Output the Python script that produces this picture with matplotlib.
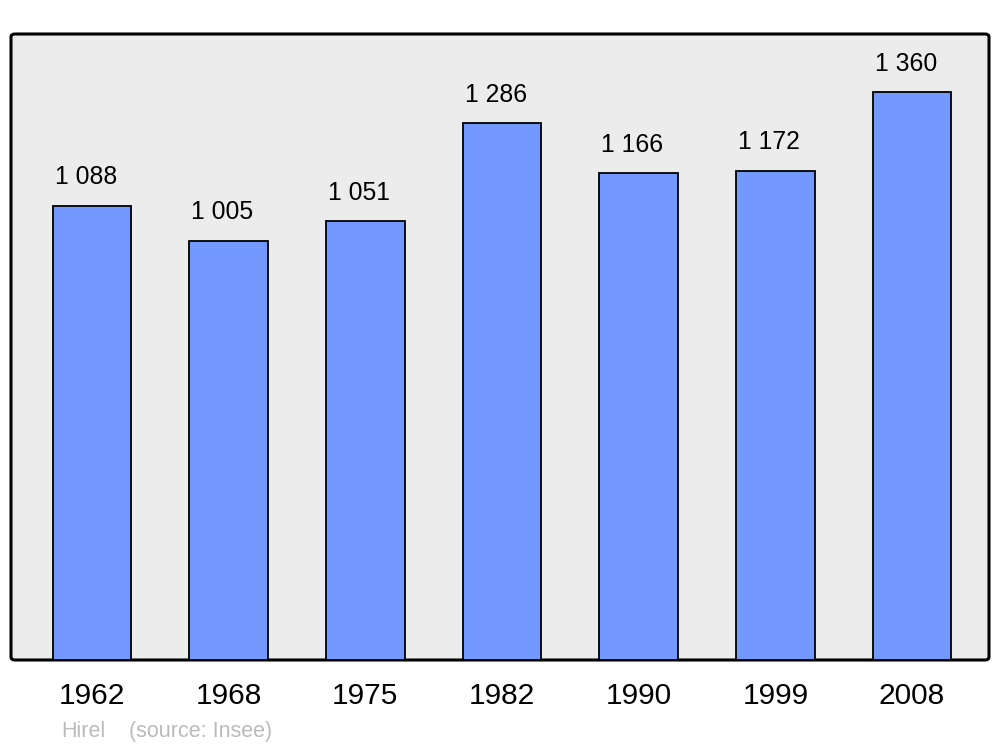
import matplotlib
matplotlib.use("Agg")
import matplotlib.pyplot as plt
from matplotlib.patches import FancyBboxPatch

years = ["1962", "1968", "1975", "1982", "1990", "1999", "2008"]
population = [1088, 1005, 1051, 1286, 1166, 1172, 1360]
value_labels = ["1 088", "1 005", "1 051", "1 286", "1 166", "1 172", "1 360"]
commune = "Hirel"
source = "(source: Insee)"

plt.rcParams['font.family'] = ['Liberation Sans', 'DejaVu Sans']

fig = plt.figure(figsize=(10, 7.47), dpi=100)
left, bottom, width, height = 0.011, 87/747, 0.978, 626/747

# rounded frame background
frame = FancyBboxPatch((left, bottom), width, height,
                       boxstyle="round,pad=0,rounding_size=0.004",
                       transform=fig.transFigure, facecolor="#ececec",
                       edgecolor="black", linewidth=2.2, zorder=-5)
fig.patches.append(frame)

ax = fig.add_axes([left, bottom, width, height])
ax.set_zorder(1)
ax.set_facecolor("none")
ax.patch.set_visible(False)
for s in ax.spines.values():
    s.set_visible(False)

x = list(range(len(years)))
ax.bar(x, population, width=0.575, color="#7399ff", edgecolor="black",
       linewidth=1.3, zorder=2)
ax.set_xlim(-0.593, 6.563)
ax.set_ylim(0, 1500)
ax.set_yticks([])
ax.set_xticks(x)
ax.set_xticklabels(years, fontsize=21.5)
ax.tick_params(axis='x', length=0, pad=16)

for xi, v, lab in zip(x, population, value_labels):
    ax.annotate(lab, (xi, v), xytext=(-4.5, 20.5), textcoords="offset points",
                ha="center", va="center", fontsize=17.8, color="black")

fig.text(61/1000, 1 - 737/747, commune, fontsize=15.5, color="#bbbbbb",
         ha="left", va="baseline")
fig.text(129/1000, 1 - 737/747, source, fontsize=15.5, color="#bbbbbb",
         ha="left", va="baseline")

fig.savefig("out.png", dpi=100)
